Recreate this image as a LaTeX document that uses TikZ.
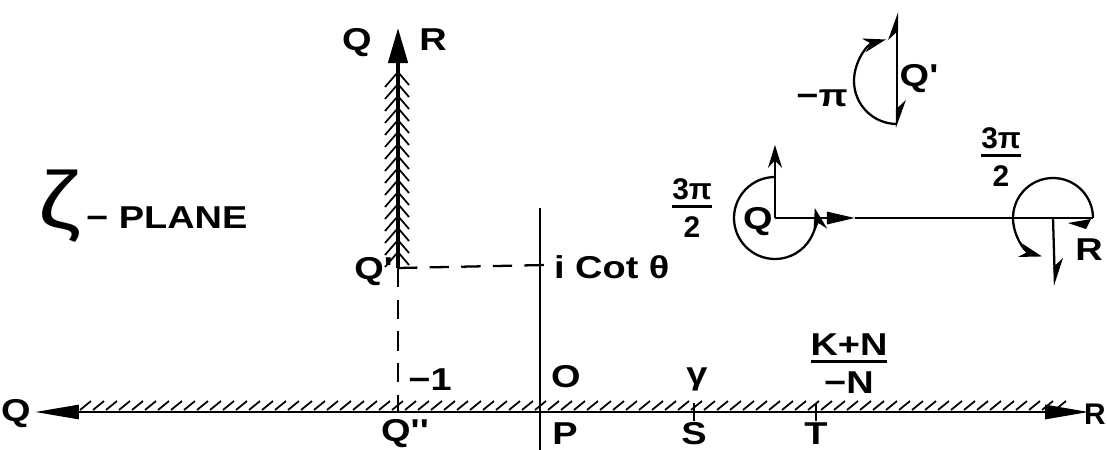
\documentclass[tikz,border=0pt]{standalone}
\usepackage{fontspec}
\setmainfont{Liberation Sans}
\newfontfamily\lerfont[FakeStretch=1.2]{Liberation Sans}
\usetikzlibrary{arrows.meta}
\setlength{\arrayrulewidth}{1.6pt}
\newcommand{\frc}[2]{\begin{tabular}{@{}c@{}}#1\\[-3pt]\hline\rule{0pt}{17pt}#2\end{tabular}}

\begin{document}
\begin{tikzpicture}[x=0.02cm,y=-0.02cm,
  lbl/.style={font=\lerfont\fontsize{18}{20}\bfseries\selectfont, inner sep=1pt},
  fraclbl/.style={font=\fontsize{17}{19}\bfseries\selectfont, inner sep=1pt},
  axis/.style={line width=1.6pt},
  hatch/.style={line width=1pt},
  ln/.style={line width=1.3pt},
  dashline/.style={line width=1.3pt, dash pattern=on 11pt off 7pt},
  bigtip/.tip={Triangle[length=25pt,width=8pt]},
  smtip/.tip={Stealth[length=13pt,width=8pt]},
  harp/.style={-{Stealth[harpoon,length=14pt,width=10pt]}}]
\useasboundingbox (0,0) rectangle (1107,450);

% points on the real axis
\coordinate (Qend) at (35,412);
\coordinate (Rend) at (1089,412);
\coordinate (Qpp) at (398,412);
\coordinate (P) at (540,412);
\coordinate (S) at (694,412);
\coordinate (T) at (816,412);
% points on the imaginary axis
\coordinate (Qp) at (398,268);
\coordinate (Rtop) at (398,28);
\coordinate (icot) at (545,265);
\coordinate (imtop) at (540,208);
\coordinate (imbot) at (540,450);

% Real axis, hatched
\draw[axis, {bigtip}-{bigtip}] (Qend) -- (Rend);
\foreach \x in {80,93,...,1062}
  \draw[hatch] (\x,410) -- ++(11,-9);
\draw[ln] (S) ++(0,-9) -- ++(0,18);
\draw[ln] (T) ++(0,-9) -- ++(0,18);

% Imaginary axis
\draw[ln] (imtop) -- (imbot);

% Cut from Q' upwards, herringbone hatching
\draw[line width=2.2pt, -{Triangle[length=20pt,width=11pt]}] (Qp) -- (Rtop);
\foreach \y in {72,84,...,262} {
  \draw[hatch] (398,\y) -- ++(-13,15);
  \draw[hatch] (398,\y) -- ++(11,13);
}

% dashed guides
\draw[dashline] (Qp) -- (icot);
\draw[dashline] (Qp) -- (Qpp);

% labels
\node[lbl] (lQl) at (16,414) {Q};
\node[fraclbl, anchor=east, inner sep=0pt] (lRr) at (1106,414) {R};
\node[lbl] (lQt) at (357,43) {Q};
\node[lbl] (lRt) at (433,40) {R};
\node[lbl, anchor=east] (lQp) at (395,272) {Q'};
\node[lbl] (lQpp) at (405,434) {Q''};
\node[lbl] (lP) at (565,434) {P};
\node[lbl] (lS) at (694,434) {S};
\node[lbl] (lT) at (816,434) {T};
\node[lbl] (lm1) at (430,380) {\char"2212 1};
\node[lbl] (lO) at (566,377) {O};
\node[lbl] (lgam) at (697,379) {γ};
\node[lbl] (lKN) at (849,367) {\frc{K+N}{\char"2212 N}};
\node[lbl, anchor=west] (lcot) at (552,267) {i Cot θ};
\node[lbl, anchor=west] (lpln) at (36,206) {{\fontsize{46}{46}\selectfont\mdseries ζ}\,\char"2212\ PLANE};

% -pi turn at Q'
\coordinate (Ac) at (897,82);
\coordinate (Atop) at (897,12);
\coordinate (Abot) at (897,128);
\draw[ln, harp] (Ac) -- (Atop);
\draw[ln, harp] (Ac) -- (Abot);
\draw[ln, -{smtip}] (897,124) arc[start angle=90, end angle=255, radius=43];
\node[lbl] (lmpi) at (822,98) {\char"2212 π};
\node[lbl] (lQa) at (919,79) {Q'};

% 3pi/2 turns at Q and R
\coordinate (Bc) at (775,218);
\coordinate (Btop) at (775,145);
\coordinate (Bmid) at (855,218);
\coordinate (Cc) at (1053,218);
\coordinate (Crt) at (1093,218);
\coordinate (Cbot) at (1055,286);
\draw[ln, -{smtip}] (Bc) -- (Btop);
\draw[ln, -{Triangle[length=16pt,width=7pt]}] (Bc) -- (Bmid);
\draw[ln] (Bmid) -- (Crt);
\draw[ln, -{smtip}] (775,177) arc[start angle=270, end angle=-14, radius=41];
\draw[ln] (Crt) arc[start angle=0, end angle=-180, radius=40];
\draw[ln, -{smtip}] (1013,218) arc[start angle=180, end angle=106, radius=40];
\draw[ln, harp] (Cc) -- (Cbot);
\fill (1068,223) -- (1091,219) -- (1086,229) -- cycle;
\node[lbl] (lQb) at (758,222) {Q};
\node[lbl] (lRb) at (1089,250) {R};
\node[fraclbl] (lfrA) at (692,212) {\frc{3π}{2}};
\node[fraclbl] (lfrB) at (1001,161) {\frc{3π}{2}};
\end{tikzpicture}
\end{document}
